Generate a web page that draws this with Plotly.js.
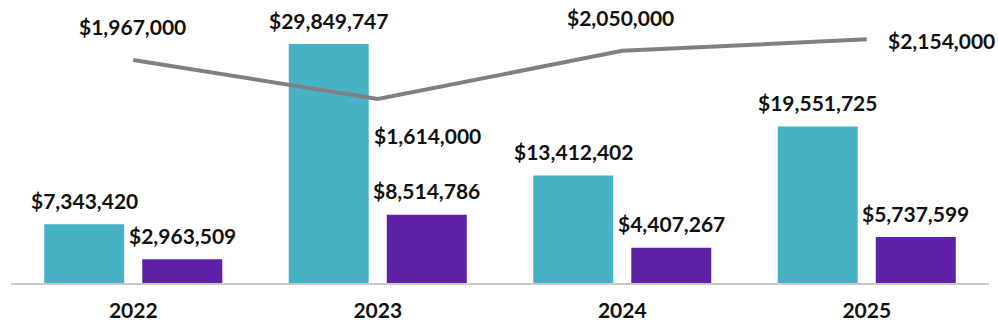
<!DOCTYPE html>
<html>
<head>
<meta charset="utf-8">
<script src="https://cdn.plot.ly/plotly-3.0.1.min.js"></script>
<style>html,body{margin:0;padding:0;background:#fff;}#chart{width:998px;height:326px;}</style>
</head>
<body>
<div id="chart"></div>
<script>
var years = ['2022', '2023', '2024', '2025'];
var seriesA = [7343420, 29849747, 13412402, 19551725];
var seriesB = [2963509, 8514786, 4407267, 5737599];
var lineValues = [1967000, 1614000, 2050000, 2154000];

var TEAL = '#48B2C5';
var PURPLE = '#5F22A6';
var GRAY = '#808080';
var FONT = 'Lato, "Source Sans Pro", Calibri, sans-serif';

function money(v) { return '$' + v.toLocaleString('en-US'); }

var traces = [
  {type: 'bar', x: years, y: seriesA, marker: {color: TEAL}, hoverinfo: 'none', showlegend: false},
  {type: 'bar', x: years, y: seriesB, marker: {color: PURPLE}, hoverinfo: 'none', showlegend: false},
  {type: 'scatter', mode: 'lines', x: years, y: lineValues, yaxis: 'y2', line: {color: GRAY, width: 4}, hoverinfo: 'none', showlegend: false}
];

var labelFont = {family: FONT, size: 21, color: '#111', weight: 'bold'};
var annotations = [];
years.forEach(function (yr, i) {
  annotations.push({x: i, y: seriesA[i], xref: 'x', yref: 'y', text: money(seriesA[i]), showarrow: false,
    xshift: -49, yshift: 24, yanchor: 'middle', font: labelFont});
  annotations.push({x: i, y: seriesB[i], xref: 'x', yref: 'y', text: money(seriesB[i]), showarrow: false,
    xshift: 49, yshift: 24, yanchor: 'middle', font: labelFont});
});
var lineLabelShift = [[-1, 34], [50, -36], [-2, 33], [75, -1]];
years.forEach(function (yr, i) {
  annotations.push({x: i, y: lineValues[i], xref: 'x', yref: 'y2', text: money(lineValues[i]), showarrow: false,
    xshift: lineLabelShift[i][0], yshift: lineLabelShift[i][1], yanchor: 'middle', font: labelFont});
});

var layout = {
  width: 998, height: 326,
  margin: {l: 11, r: 9, t: 10, b: 43},
  paper_bgcolor: '#fff', plot_bgcolor: '#fff',
  barmode: 'group', bargap: 0.198, bargroupgap: 0.184,
  xaxis: {type: 'category', range: [-0.5, 3.5], autorange: false, showline: true, linecolor: '#c8c8c8', linewidth: 2,
    showgrid: false, zeroline: false, ticks: '', ticklabelstandoff: 8,
    tickfont: {family: FONT, size: 21, color: '#111', weight: 'bold'}},
  yaxis: {range: [0, 34100000], autorange: false, visible: false, showgrid: false, zeroline: false},
  yaxis2: {range: [-51000, 2419500], autorange: false, overlaying: 'y', side: 'right', visible: false, showgrid: false, zeroline: false},
  annotations: annotations,
  font: {family: FONT}
};

Plotly.newPlot('chart', traces, layout, {staticPlot: true, displayModeBar: false});
</script>
</body>
</html>
